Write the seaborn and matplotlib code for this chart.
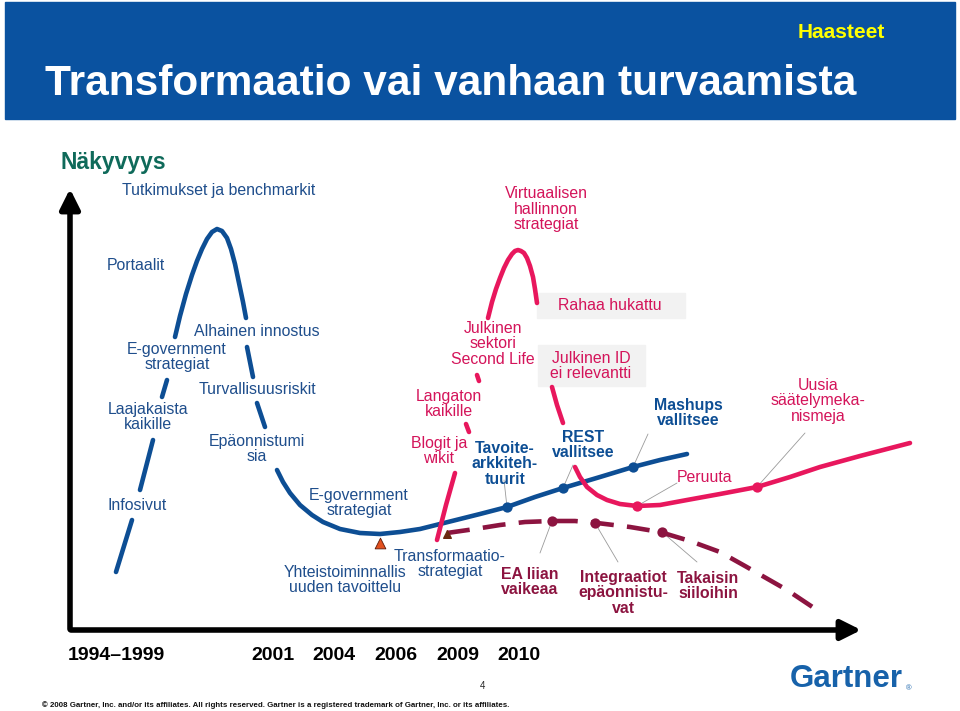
import matplotlib
matplotlib.use("Agg")
import matplotlib.pyplot as plt
import seaborn as sns
import pandas as pd
from matplotlib.patches import Rectangle

# ---------------- data (pixel positions) ----------------
# Blue hype curve (segments separated where labels interrupt it)
blue_seg1_x = [116, 132]
blue_seg1_y = [572, 520]
blue_seg2_x = [140, 153]
blue_seg2_y = [490, 440]
blue_seg3_x = [162, 167]
blue_seg3_y = [397, 380]
blue_seg4_x = [175, 180, 186, 192, 197, 202, 207, 212, 217, 222, 227, 231, 235, 239, 243, 246]
blue_seg4_y = [337, 316, 294, 275, 261, 249, 239, 232, 229, 231, 238, 249, 264, 283, 302, 318]
blue_seg5_x = [247, 253]
blue_seg5_y = [347, 377]
blue_seg6_x = [257, 265]
blue_seg6_y = [403, 427]
blue_seg7_x = [277, 283, 290, 300, 312, 323, 340, 360, 380, 400, 420, 440, 460, 480, 507, 535, 563, 600, 633, 660, 687]
blue_seg7_y = [470, 482, 493, 505, 515, 522, 529, 533, 534, 532, 529, 524, 519, 514, 507, 497, 488, 477, 467, 460, 454]

# Pink hype curve
pink_seg1_x = [437, 446, 455]
pink_seg1_y = [540, 505, 473]
pink_seg2_x = [466, 469]
pink_seg2_y = [424, 432]
pink_seg3_x = [477, 479]
pink_seg3_y = [375, 381]
pink_seg4_x = [488, 492, 496, 500, 504, 508, 512, 515, 518, 521, 524, 527, 530, 533, 535, 537]
pink_seg4_y = [318, 302, 289, 278, 268, 260, 254, 251, 250, 251, 253, 258, 266, 277, 289, 303]
pink_seg5_x = [552, 557, 563]
pink_seg5_y = [387, 405, 423]
pink_seg6_x = [575, 580, 587, 597, 607, 620, 637, 660, 687, 720, 757, 790, 820, 860, 910]
pink_seg6_y = [467, 477, 487, 495, 500, 504, 506, 505, 500, 494, 487, 477, 467, 456, 443]

# Dashed maroon curve
dash_x = [447, 475, 500, 525, 552, 575, 597, 630, 660, 690, 720, 745, 787, 817]
dash_y = [533, 529, 525, 522, 521, 521, 523, 527, 532, 541, 552, 566, 590, 610]

# Marker points and leader lines
blue_pts_x = [507, 563, 633]
blue_pts_y = [507, 488, 467]
blue_lead_x = [504, 573, 648]
blue_lead_y = [480, 465, 434]
pink_pts_x = [637, 757]
pink_pts_y = [506, 487]
pink_lead_x = [677, 805]
pink_lead_y = [483, 433]
maroon_pts_x = [552, 595, 662]
maroon_pts_y = [521, 523, 532]
maroon_lead_x = [540, 618, 697]
maroon_lead_y = [553, 562, 562]

years = ["1994–1999", "2001", "2004", "2006", "2009", "2010"]
year_x = [116, 273, 334, 396, 458, 519]

# ---------------- styling ----------------
sns.set_theme(style="white")
plt.rcParams["font.family"] = ["Liberation Sans", "DejaVu Sans"]

BLUE = "#0D4E94"
BLUE_T = "#1F4E8C"
PINK = "#E8175D"
PINK_T = "#D4145A"
MAROON = "#8C1440"
LW = 3.3

fig = plt.figure(figsize=(9.6, 7.11), dpi=100)
ax = fig.add_axes([0, 0, 1, 1])
ax.set_xlim(0, 960)
ax.set_ylim(711, 0)
ax.axis("off")

# banner
ax.add_patch(Rectangle((5, 2), 950, 117, color="#0A52A0", zorder=0))
narrow = ["Liberation Sans Narrow", "Liberation Sans", "DejaVu Sans"]
ax.text(45, 84, "Transformaatio vai vanhaan turvaamista", color="white",
        fontsize=30.5, fontweight="bold", family=narrow, va="center", ha="left")
ax.text(841, 32, "Haasteet", color="#FFFF00", fontsize=15, fontweight="bold",
        family=narrow, va="center", ha="center")

def seg(x, y, color, **kw):
    df = pd.DataFrame({"x": x, "y": y})
    sns.lineplot(data=df, x="x", y="y", sort=False, estimator=None, color=color,
                 lw=LW, ax=ax, legend=False, **kw)

for sx, sy in [(blue_seg1_x, blue_seg1_y), (blue_seg2_x, blue_seg2_y), (blue_seg3_x, blue_seg3_y),
               (blue_seg4_x, blue_seg4_y), (blue_seg5_x, blue_seg5_y), (blue_seg6_x, blue_seg6_y),
               (blue_seg7_x, blue_seg7_y)]:
    seg(sx, sy, BLUE, zorder=3)
for sx, sy in [(pink_seg1_x, pink_seg1_y), (pink_seg2_x, pink_seg2_y), (pink_seg3_x, pink_seg3_y),
               (pink_seg4_x, pink_seg4_y), (pink_seg5_x, pink_seg5_y), (pink_seg6_x, pink_seg6_y)]:
    seg(sx, sy, PINK, zorder=3)
seg(dash_x, dash_y, MAROON, linestyle=(0, (5.0, 2.9)), zorder=3)

# leaders
for px, py, lx, ly in zip(blue_pts_x + pink_pts_x + maroon_pts_x,
                          blue_pts_y + pink_pts_y + maroon_pts_y,
                          blue_lead_x + pink_lead_x + maroon_lead_x,
                          blue_lead_y + pink_lead_y + maroon_lead_y):
    ax.plot([px, lx], [py, ly], color="#9a9a9a", lw=0.6, zorder=2)
sns.scatterplot(x=blue_pts_x, y=blue_pts_y, color=BLUE, s=55, ax=ax, zorder=4, linewidth=0)
sns.scatterplot(x=pink_pts_x, y=pink_pts_y, color=PINK, s=55, ax=ax, zorder=4, linewidth=0)
sns.scatterplot(x=maroon_pts_x, y=maroon_pts_y, color=MAROON, s=55, ax=ax, zorder=4, linewidth=0)

# triangles
ax.scatter([380], [543], marker="^", s=60, color="#E2501E", edgecolor="#5a1a0a", linewidth=0.6, zorder=5)
ax.scatter([447], [534], marker="^", s=30, color="#6b2a10", zorder=5)

# axes arrows
ax.annotate("", xy=(70, 186), xytext=(70, 632),
            arrowprops=dict(arrowstyle="-|>,head_length=1.0,head_width=0.5", lw=4, color="black"))
ax.annotate("", xy=(864, 630), xytext=(68, 630),
            arrowprops=dict(arrowstyle="-|>,head_length=1.0,head_width=0.5", lw=4, color="black"))

# gray boxes
ax.add_patch(Rectangle((537, 293), 148, 25, color="#F2F2F2", zorder=1))
ax.add_patch(Rectangle((538, 345), 107, 41, color="#F2F2F2", zorder=1))

FS = 11.4
def t(x, y, s, c, fw="normal", fs=FS, ha="center"):
    ax.text(x, y, s, color=c, fontsize=fs, fontweight=fw, ha=ha, va="center",
            linespacing=1.08, zorder=6)

ax.text(60, 163, "Näkyvyys", color="#0F6A5A", fontsize=16.5, fontweight="bold", ha="left", va="center")
t(122, 190, "Tutkimukset ja benchmarkit", BLUE_T, ha="left")
t(546, 209, "Virtuaalisen\nhallinnon\nstrategiat", PINK_T)
t(107, 265, "Portaalit", BLUE_T, ha="left")
t(257, 331, "Alhainen innostus", BLUE_T)
t(177, 357, "E-government\nstrategiat", BLUE_T)
t(257, 390, "Turvallisuusriskit", BLUE_T)
t(148, 417, "Laajakaista\nkaikille", BLUE_T)
t(257, 449, "Epäonnistumi\nsia", BLUE_T)
t(137, 506, "Infosivut", BLUE_T)
t(359, 503, "E-government\nstrategiat", BLUE_T)
t(493, 344, "Julkinen\nsektori\nSecond Life", PINK_T)
t(449, 404, "Langaton\nkaikille", PINK_T)
t(439, 451, "Blogit ja\nwikit", PINK_T)
t(610, 306, "Rahaa hukattu", PINK_T)
t(591, 366, "Julkinen ID\nei relevantti", PINK_T)
t(505, 464, "Tavoite-\narkkiteh-\ntuurit", BLUE, "bold")
t(583, 445, "REST\nvallitsee", BLUE, "bold")
t(688, 413, "Mashups\nvallitsee", BLUE, "bold")
t(705, 478, "Peruuta", PINK_T)
t(818, 401, "Uusia\nsäätelymeka-\nnismeja", PINK_T)
t(450, 564, "Transformaatio-\nstrategiat", BLUE_T)
t(345, 580, "Yhteistoiminnallis\nuuden tavoittelu", BLUE_T)
t(530, 582, "EA liian\nvaikeaa", MAROON, "bold")
t(623, 593, "Integraatiot\nepäonnistu-\nvat", MAROON, "bold")
t(708, 586, "Takaisin\nsiiloihin", MAROON, "bold")

for yx, yl in zip(year_x, years):
    ax.text(yx, 656, yl, color="black", fontsize=14, fontweight="bold", family=narrow,
            ha="center", va="center")

ax.text(482, 686, "4", fontsize=7, ha="center", va="center", family=narrow)
ax.text(42, 705, "© 2008 Gartner, Inc. and/or its affiliates. All rights reserved. Gartner is a registered trademark of Gartner, Inc. or its affiliates.",
        fontsize=5.7, fontweight="bold", family=narrow, ha="left", va="center", color="#111111")
ax.text(846, 679, "Gartner", color="#1762AA", fontsize=22.5, fontweight="bold", ha="center", va="center")
ax.text(909, 689, "®", color="#1762AA", fontsize=5.5, ha="center", va="center")

fig.savefig("out.png", dpi=100)
